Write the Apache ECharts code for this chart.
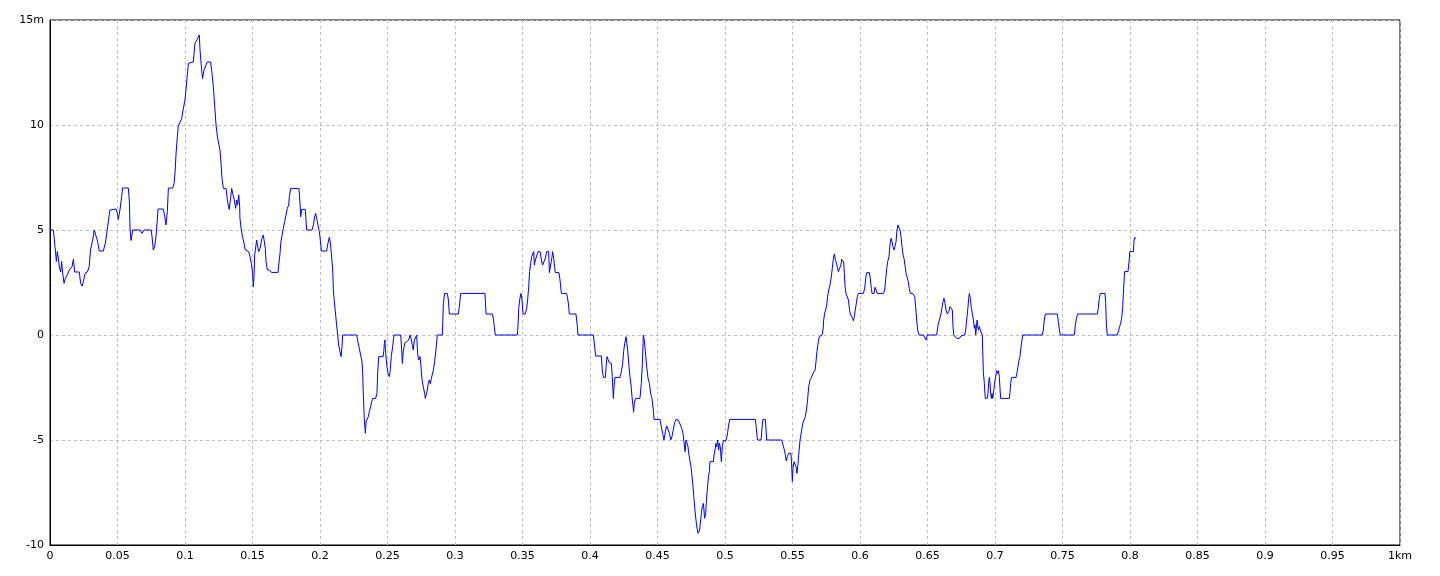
<!DOCTYPE html>
<html>
<head>
<meta charset="utf-8">
<script src="https://cdn.jsdelivr.net/npm/echarts@6/dist/echarts.min.js"></script>
<style>
html,body{margin:0;padding:0;background:#fff;}
#chart{width:1440px;height:576px;}
</style>
</head>
<body>
<div id="chart"></div>
<script>
// Distance (km) / elevation (m) profile points
const profilePoints = [
[0,5],[0.0025,5],[0.0030,4.68],[0.0037,4.2],[0.0044,3.73],[0.0047,3.5],[0.0054,3.97],[0.0062,3.65],[0.0069,3.25],[0.0079,3.0],
[0.0086,3.5],[0.0094,2.94],[0.0104,2.46],[0.0114,2.7],[0.0128,2.86],[0.0143,3.1],[0.0163,3.25],[0.0173,3.6],[0.0183,3.0],[0.0193,3.0],
[0.0217,3.0],[0.0227,2.46],[0.0237,2.33],[0.0247,2.54],[0.026,2.94],[0.0277,3.0],[0.029,3.25],[0.030,4.05],[0.0316,4.52],[0.0328,5.0],
[0.0341,5.0],[0.0353,4.44],[0.0365,4.0],[0.0395,4.0],[0.041,4.37],[0.042,4.84],[0.0432,5.4],[0.0444,5.95],[0.0489,6.0],[0.0499,5.8],
[0.0506,5.5],[0.0519,6.0],[0.0531,6.6],[0.0538,7.0],[0.058,7.0],[0.0588,6.35],[0.0593,5.08],[0.06,4.5],[0.0607,4.76],[0.0612,5],
[0.0667,5],[0.0681,4.84],[0.0696,5],[0.075,5],[0.0756,4.68],[0.0765,4.05],[0.0775,4.2],[0.0785,4.68],[0.0795,5.48],[0.08,6.0],
[0.0840,6.0],[0.085,5.63],[0.0859,5.24],[0.0869,5.87],[0.0877,7.0],[0.0909,7.0],[0.0919,7.22],[0.0926,7.7],[0.0933,8.57],[0.0943,9.44],
[0.095,9.95],[0.0963,10],[0.0975,10.3],[0.0988,10.8],[0.1,11.2],[0.1012,12],[0.1025,12.94],[0.1032,13],[0.1062,13],[0.1067,13.4],
[0.1074,13.9],[0.1091,14.08],[0.1106,14.29],[0.1111,13.6],[0.1121,12.78],[0.113,12.2],[0.114,12.6],[0.1156,12.86],[0.1165,13],[0.119,13],
[0.12,12.46],[0.121,11.8],[0.122,10.9],[0.123,10],[0.124,9.44],
[0.1259,8.81],[0.1267,8.17],[0.1274,7.46],[0.1284,6.98],[0.1304,6.98],[0.1314,6.43],[0.1323,6.08],[0.1328,5.98],[0.134,5.98],[0.1346,6.98],
[0.1353,6.75],[0.1365,6.43],[0.1375,6.03],[0.1383,6.43],[0.139,6.2],[0.1398,6.67],[0.1405,6.11],[0.1407,5.56],[0.1417,5.0],[0.1427,4.65],
[0.1437,4.37],[0.1447,4.05],[0.1457,4.0],[0.1472,3.97],[0.1481,3.76],[0.1491,3.41],[0.1501,2.94],[0.1506,2.3],[0.1511,2.78],[0.1516,3.81],
[0.1526,4.29],[0.1531,4.52],[0.1536,4.29],[0.1546,3.97],[0.1556,4.13],[0.1563,4.37],[0.157,4.6],[0.158,4.76],[0.1588,4.84],[0.1595,4.13],
[0.16,3.49],[0.161,3.1],[0.1617,3.17],[0.1625,3.1],[0.164,2.98],[0.1689,2.98],[0.1694,3.33],[0.1704,3.89],[0.1709,4.37],[0.1719,4.76],
[0.1728,5.08],[0.1738,5.4],[0.1748,5.71],[0.1758,6.03],[0.1768,6.19],[0.1773,6.59],[0.1783,6.98],[0.1844,6.98],[0.1852,6.27],[0.1857,5.63],
[0.1864,5.98],[0.1891,5.98],[0.1896,5.48],[0.1901,5.0],[0.1941,5.0],[0.1951,5.24],[0.196,5.63],[0.1968,5.79],[0.1975,5.56],[0.1985,5.24],
[0.1995,4.92],[0.2005,4.37],[0.201,4.0],[0.2049,4.0],[0.2059,4.37],[0.2069,4.65],[0.2077,4.37],[0.2084,3.89],[0.2094,3.1],[0.2099,2.14],
[0.2104,1.75],[0.2109,1.67],[0.2116,0.95],[0.2123,0.48],[0.2131,0],[0.2138,-0.48],[0.2148,-0.79],[0.2156,-1.03],[0.2163,-0.56],[0.2168,0],
[0.2272,0],[0.2281,-0.32],[0.2291,-0.63],[0.2301,-0.95],[0.2311,-1.27],[0.2316,-1.83],[0.2321,-2.86],[0.2328,-3.97],[0.2336,-4.68],[0.2341,-4.13],
[0.2348,-4.21],[0.2358,-3.89],[0.2365,-3.65],[0.2375,-3.41],[0.2383,-3.17],[0.2390,-3.02],[0.2412,-3.02],[0.2422,-2.78],[0.2427,-1.83],[0.2435,-1.03],
[0.2467,-1.03],[0.2472,-0.79],[0.2477,-0.4],[0.2481,-0.24],[0.2486,-0.87],[0.2496,-1.51],[0.2504,-1.83],[0.2514,-1.98],[0.2519,-1.75],[0.2528,-1.03],
[0.2538,-0.56],[0.2548,0],[0.2598,0],[0.2605,-0.71],[0.261,-1.35],[0.2617,-0.79],[0.2627,-0.4],[0.2642,-0.32],[0.2657,-0.24],[0.2667,0],
[0.2674,-0.16],[0.2684,-0.48],[0.2691,-0.71],[0.2699,-0.24],[0.2706,-0.16],[0.2716,0],[0.2723,-0.87],[0.2731,-1.19],[0.2741,-1.03],[0.2748,-1.51],
[0.2756,-2.14],[0.2765,-2.46],[0.2775,-2.78],[0.278,-3.02],[0.279,-3.02],[0.2795,-2.62],[0.2802,-2.3],[0.281,-2.14],[0.2817,-2.33],[0.2825,-2.06],
[0.2832,-2.0],[0.284,-1.67],[0.2849,-1.27],[0.2859,-0.71],[0.2869,0],[0.2906,0],
[0.2909,0.48],[0.2914,1.51],[0.2923,1.98],[0.2943,1.98],[0.2951,1.67],[0.2958,1.0],[0.3025,1.0],[0.3032,1.35],[0.3042,1.98],[0.3222,1.98],
[0.323,1.0],[0.3277,1.0],[0.3284,0.79],[0.3291,0.4],[0.3299,0],[0.3462,0],[0.3467,0.48],[0.3472,1.27],[0.3481,1.75],[0.3489,1.98],
[0.3496,1.67],[0.3504,1.0],[0.3521,1.0],[0.3531,1.27],[0.3538,1.67],[0.3546,2.3],[0.3553,3.02],[0.356,3.41],[0.3568,3.73],[0.3575,3.81],
[0.3583,3.97],[0.3588,3.33],[0.3595,3.57],[0.3605,3.76],[0.3615,3.97],[0.363,3.97],[0.364,3.57],[0.3649,3.33],[0.3662,3.33],[0.3669,3.65],
[0.3679,3.97],[0.3694,3.97],[0.3699,2.97],[0.3711,2.97],[0.3719,3.73],[0.3723,3.97],[0.3731,3.65],[0.3738,3.25],[0.3743,2.97],[0.377,2.97],
[0.3778,2.62],[0.3788,1.98],[0.3827,1.98],[0.3840,1.51],[0.3847,1.0],[0.3896,1.0],[0.3904,0.56],[0.3911,0],[0.4025,0],[0.4032,-0.4],
[0.4042,-1.0],[0.4084,-1.0],[0.4091,-1.67],[0.4099,-2.02],[0.4114,-2.02],[0.4119,-1.51],[0.4126,-1.03],[0.4133,-1.03],[0.4143,-1.32],[0.4158,-1.35],
[0.4165,-1.98],[0.4173,-3.02],[0.4178,-2.46],[0.4185,-2.02],[0.4222,-2.02],[0.4232,-1.75],[0.4242,-1.35],[0.4249,-0.79],[0.4257,-0.4],[0.4267,-0.08],
[0.4274,0],[0.4279,-0.71],[0.4289,-1.51],[0.4296,-1.98],[0.4304,-2.38],[0.4311,-2.94],[0.4319,-3.41],[0.4323,-3.68],[0.4328,-3.25],[0.4338,-3.02],
[0.437,-3.02],[0.438,-2.3],[0.4388,-1.35],[0.4395,0],[0.4402,-0.24],[0.441,-0.79],[0.442,-1.51],[0.443,-2.06],[0.4440,-2.3],[0.4449,-2.78],
[0.4459,-3.02],[0.4469,-3.57],[0.4474,-4.02],[0.4519,-4.02],[0.4528,-4.37],[0.4538,-4.68],[0.4548,-5.0],[0.4558,-4.6],[0.4568,-4.33],[0.458,-4.33],
[0.4588,-4.68],[0.4598,-5.0],[0.4607,-4.84],[0.4617,-4.52],[0.4627,-4.17],[0.4637,-4.02],[0.4652,-4.05],
[0.4667,-4.24],[0.4679,-4.44],[0.4689,-4.68],[0.4696,-5.08],[0.4704,-5.56],[0.4711,-5.0],[0.4719,-5.16],[0.4726,-5.32],[0.4733,-5.71],[0.4741,-5.79],
[0.4748,-6.27],[0.4756,-6.75],[0.4763,-7.22],[0.477,-7.78],[0.4778,-8.37],[0.4785,-8.81],[0.4793,-9.21],[0.48,-9.44],[0.4807,-9.52],[0.4812,-9.29],
[0.482,-8.81],[0.4825,-8.49],[0.4832,-8.17],[0.4840,-8.02],[0.4844,-8.33],[0.4849,-8.73],[0.4857,-8.49],[0.4862,-7.94],[0.4869,-7.35],[0.4877,-6.75],
[0.4884,-6.51],[0.4889,-6.03],[0.4914,-6.03],[0.4919,-5.71],[0.4926,-5.48],[0.4933,-5.16],[0.4938,-5.32],[0.4946,-5.0],[0.4953,-5.48],[0.4958,-5.16],
[0.4965,-5.32],[0.4973,-6.03],[0.498,-5.32],[0.4988,-5.03],[0.5007,-5.03],[0.5017,-4.76],[0.5027,-4.29],[0.5035,-4.02],[0.5225,-4.02],[0.5232,-4.44],
[0.524,-5.0],[0.5267,-5.0],[0.5274,-4.44],[0.5281,-4.02],[0.5299,-4.02],[0.5304,-4.52],[0.5309,-5.0],[0.542,-5.0],[0.543,-5.24],[0.544,-5.48],
[0.5447,-5.71],[0.5454,-6.0],[0.5462,-5.79],[0.5472,-5.63],[0.5481,-5.56],[0.5489,-5.63],[0.5494,-6.27],[0.5499,-6.98],[0.5504,-6.35],[0.5511,-6.03],
[0.5519,-6.03],[0.5526,-6.27],[0.5533,-6.59],[0.5541,-6.11],[0.5546,-5.71],[0.5556,-5.0],
[0.5568,-4.52],[0.5575,-4.24],[0.5585,-4.05],[0.5595,-3.89],[0.5605,-3.49],[0.5612,-3.06],[0.562,-2.46],[0.563,-2.14],[0.564,-2.03],[0.5649,-1.86],
[0.5659,-1.9],[0.5667,-1.67],[0.5674,-1.27],[0.5681,-0.79],[0.5691,-0.32],[0.5699,-0.08],[0.5709,0],[0.5719,0],[0.5726,0.24],[0.5731,0.71],
[0.5738,1.03],[0.5746,1.11],[0.5753,1.38],[0.576,1.83],[0.5768,2.14],[0.5778,2.38],[0.5788,2.81],[0.5795,3.17],[0.5802,3.6],[0.581,3.86],
[0.5817,3.6],[0.5825,3.44],[0.5832,3.22],[0.5840,3.02],[0.5852,3.02],[0.5859,3.33],[0.5864,3.6],[0.5872,3.54],[0.5879,3.49],[0.5884,2.94],
[0.5889,2.33],[0.5896,1.98],[0.5906,1.95],[0.5914,1.67],[0.5921,1.27],[0.5928,1.0],[0.5938,0.95],[0.5946,0.79],[0.5951,0.68],[0.5958,0.87],
[0.5965,1.19],[0.5973,1.51],[0.598,1.83],[0.5988,1.98],[0.6025,1.98],[0.6035,2.22],[0.6042,2.7],[0.605,2.97],[0.607,2.97],[0.6077,2.62],
[0.6084,2.22],[0.6089,1.98],[0.6104,1.98],[0.6111,2.27],[0.6119,2.14],[0.6128,1.98],[0.6173,1.98],[0.6183,2.14],[0.619,2.62],[0.6198,3.17],
[0.6205,3.49],[0.6215,3.73],[0.6222,4.29],[0.623,4.6],[0.6237,4.44],[0.6244,4.21],[0.6252,4.05],[0.6259,4.21],[0.6267,4.44],[0.6274,5.0],
[0.6281,5.24],[0.6289,5.16],[0.6296,5.0],[0.6304,4.68],[0.6311,4.21],[0.6319,3.81],[0.6326,3.65],[0.6333,3.33],[0.6341,2.94],[0.6351,2.86],
[0.6358,2.54],[0.6365,2.22],[0.6373,1.98],[0.639,1.98],[0.6398,1.9],[0.6405,1.83],[0.6412,1.35],[0.642,0.71],[0.6427,0.24],[0.6437,0],
[0.6469,0],[0.6479,-0.08],[0.6489,-0.24],[0.6499,0],[0.6568,0],[0.6578,0.48],[0.6588,0.71],[0.6598,0.95],[0.6607,1.03],[0.6615,1.59],
[0.6622,1.75],[0.663,1.51],[0.6637,1.19],[0.6647,1.0],[0.6657,1.11],[0.6667,1.35],[0.6677,1.43],[0.6684,1.19],[0.6689,0.4],[0.6694,0],
[0.6707,-0.08],[0.6716,-0.16],[0.6726,-0.24],[0.6736,-0.16],[0.6746,-0.05],
[0.6775,0],[0.6783,0.24],[0.679,0.71],[0.6798,1.19],[0.6805,1.75],[0.681,1.98],[0.6817,1.75],[0.6825,1.27],[0.6832,1.03],[0.684,0.71],
[0.6847,0.32],[0.6852,0.48],[0.6857,0],[0.6862,0.32],[0.6867,0.71],[0.6872,0.48],[0.6877,0.24],[0.6884,0.4],[0.6891,0.24],[0.6899,0.16],
[0.6906,0],[0.6909,-0.79],[0.6914,-1.79],[0.6921,-2.3],[0.6928,-3.02],[0.6943,-3.02],[0.6948,-2.78],[0.6953,-2.3],[0.6958,-2.02],[0.6963,-2.3],
[0.6968,-2.78],[0.6973,-3.02],[0.6978,-2.78],[0.6983,-3.02],[0.6988,-2.78],[0.6993,-2.54],[0.6998,-2.22],[0.7005,-1.98],[0.7012,-1.7],[0.702,-1.83],
[0.7025,-1.7],[0.7032,-1.98],[0.7037,-2.54],[0.7042,-3.02],[0.7106,-3.02],[0.7111,-2.75],[0.7116,-2.3],[0.7123,-2.02],[0.7156,-2.02],[0.7163,-1.79],
[0.717,-1.51],[0.7178,-1.19],[0.7185,-1.03],[0.719,-0.71],[0.7198,-0.32],[0.7205,0],[0.735,0],[0.7358,0.24],[0.7365,0.71],[0.7373,1.0],
[0.7462,1.0],[0.7469,0.64],[0.7477,0.24],[0.7484,0],[0.7588,0],[0.7595,0.48],[0.7603,0.79],[0.7612,1.0],[0.7758,1.0],[0.7765,1.27],
[0.7773,1.75],[0.778,1.98],[0.7815,1.98],[0.782,1.51],[0.7825,0.48],[0.7832,0],[0.7906,0],[0.7914,0.16],[0.7923,0.4],[0.7931,0.56],
[0.7938,0.79],[0.7946,1.35],[0.7953,2.22],[0.796,3.02],[0.7985,3.02],[0.7993,3.49],[0.7998,3.97],[0.8025,3.97],[0.803,4.52],[0.8037,4.65],
[0.804,4.6]
];

const xMin = 0, xMax = 1, xStep = 0.05;
const yMin = -10, yMax = 15, yStep = 5;
const xUnit = 'km', yUnit = 'm';

const chart = echarts.init(document.getElementById('chart'), null, {renderer: 'canvas'});
const fontFamily = '"DejaVu Sans", "Liberation Sans", sans-serif';
chart.setOption({
  animation: false,
  backgroundColor: '#ffffff',
  grid: {left: 50, right: 40, top: 20, bottom: 31, show: true, borderColor: '#000', borderWidth: 1, backgroundColor: 'transparent'},
  xAxis: {
    type: 'value', min: xMin, max: xMax, interval: xStep,
    axisLine: {show: true, onZero: false, lineStyle: {color: '#000', width: 1}},
    axisTick: {show: false},
    axisLabel: {
      color: '#000', fontSize: 11, fontFamily: fontFamily, margin: 6,
      formatter: v => {
        const r = Math.round(v * 100) / 100;
        return r === xMax ? r + xUnit : String(r);
      }
    },
    splitLine: {show: true, lineStyle: {color: '#c0c0c0', type: [3, 3], width: 1}}
  },
  yAxis: {
    type: 'value', min: yMin, max: yMax, interval: yStep,
    axisLine: {show: true, onZero: false, lineStyle: {color: '#000', width: 1}},
    axisTick: {show: false},
    axisLabel: {
      color: '#000', fontSize: 11, fontFamily: fontFamily, margin: 6,
      formatter: v => v === yMax ? v + yUnit : String(v)
    },
    splitLine: {show: true, lineStyle: {color: '#c0c0c0', type: [3, 3], width: 1}}
  },
  series: [{
    type: 'line',
    data: profilePoints,
    showSymbol: false,
    symbol: 'none',
    lineStyle: {color: '#0000ff', width: 1},
    z: 5
  }]
});
</script>
</body>
</html>
